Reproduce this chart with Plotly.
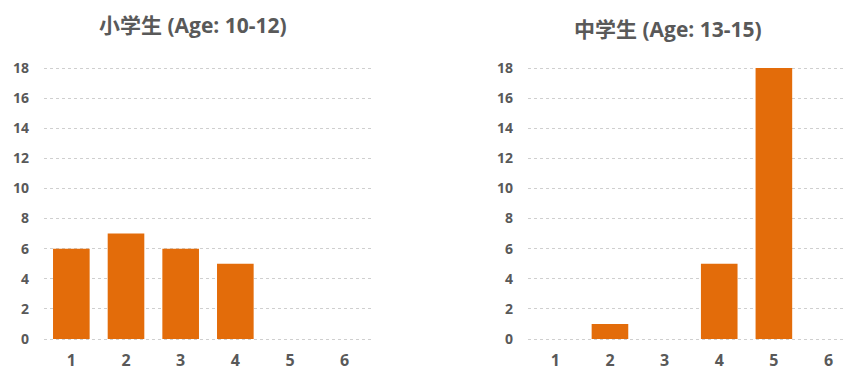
import plotly.graph_objects as go

categories = [1, 2, 3, 4, 5, 6]
elementary = [6, 7, 6, 5, 0, 0]
middle = [0, 1, 0, 5, 18, 0]
titles = ["小学生 (Age: 10-12)", "中学生 (Age: 13-15)"]
y_ticks = [0, 2, 4, 6, 8, 10, 12, 14, 16, 18]

W, H = 846, 371
bar_color = "#E36C0A"
txt = "#595959"
font_fam = "Open Sans, Noto Sans CJK SC, sans-serif"

fig = go.Figure()
fig.add_trace(go.Bar(x=categories, y=elementary, width=0.67, marker_color=bar_color,
                     marker_line_width=0, xaxis="x", yaxis="y", showlegend=False))
fig.add_trace(go.Bar(x=categories, y=middle, width=0.67, marker_color=bar_color,
                     marker_line_width=0, xaxis="x2", yaxis="y2", showlegend=False))

pad = 0.15
ppu = 271 / 18.0
ydom = [1 - (339 + pad * ppu) / H, 1 - (68 - pad * ppu) / H]
common_y = dict(range=[-pad, 18 + pad], tickvals=y_ticks, showgrid=True, gridcolor="#cfcfcf",
                griddash="dot", gridwidth=1, zeroline=False, showline=False,
                tickfont=dict(size=14, color=txt, family=font_fam, weight="bold"),
                ticklabelstandoff=14, automargin=False, domain=ydom, fixedrange=True)
common_x = dict(tickvals=categories, showgrid=False, zeroline=False, showline=False,
                tickfont=dict(size=16, color=txt, family=font_fam, weight="bold"),
                ticklabelstandoff=8, automargin=False, fixedrange=True)

fig.update_layout(
    width=W, height=H, margin=dict(l=0, r=0, t=0, b=0),
    paper_bgcolor="white", plot_bgcolor="white",
    xaxis=dict(domain=[44 / W, 372 / W], range=[0.5, 6.5], anchor="y", **common_x),
    yaxis=dict(anchor="x", **common_y),
    xaxis2=dict(domain=[528 / W, 1.0], range=[0.5, 6.32], anchor="y2", **common_x),
    yaxis2=dict(anchor="x2", **common_y),
    bargap=0.33,
)

fig.add_annotation(text=titles[0], x=193 / W, y=1 - 25 / H, xref="paper", yref="paper",
                   showarrow=False, xanchor="center", yanchor="middle",
                   font=dict(size=21, color=txt, family=font_fam, weight="bold"))
fig.add_annotation(text=titles[1], x=668 / W, y=1 - 29 / H, xref="paper", yref="paper",
                   showarrow=False, xanchor="center", yanchor="middle",
                   font=dict(size=21, color=txt, family=font_fam, weight="bold"))

fig.write_html("out.html")
